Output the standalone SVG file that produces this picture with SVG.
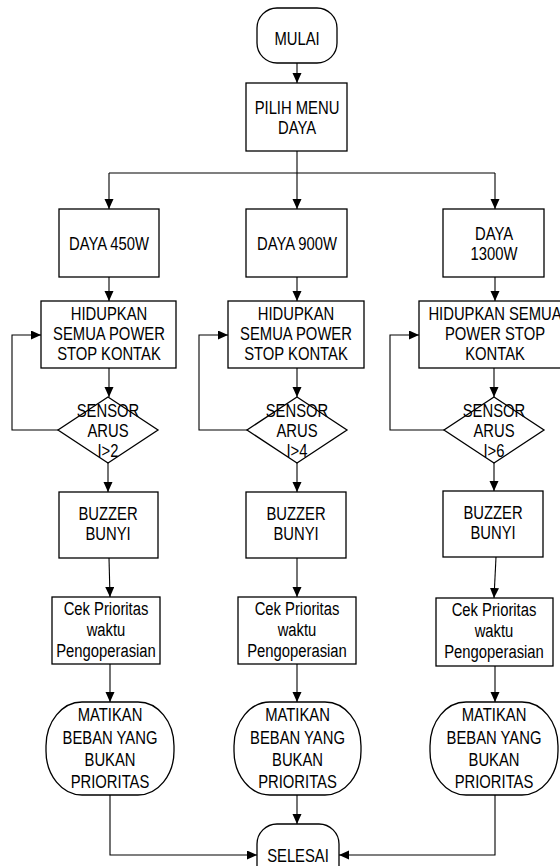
<svg xmlns="http://www.w3.org/2000/svg" width="560" height="866" viewBox="0 0 560 866">
<style>
.s{fill:#fff;stroke:#000;stroke-width:1.3}
.c{fill:none;stroke:#000;stroke-width:1.1}
.a{marker-end:url(#ah)}
.t{font-family:"Liberation Sans",Arial,sans-serif;font-size:19px;text-anchor:middle;fill:#000}
</style>
<defs>
<marker id="ah" markerUnits="userSpaceOnUse" markerWidth="10" markerHeight="10" refX="10" refY="4.5" orient="auto">
<path d="M0,0 L10,4.5 L0,9 z" fill="#000"/>
</marker>
</defs>
<rect width="560" height="866" fill="#fff"/>
<g id="connectors" class="c">
<path class="a" d="M297,63 V83"/>
<path d="M297,151 V173"/>
<path d="M109,173 H495"/>
<path class="a" d="M109,173 V209"/>
<path class="a" d="M297,173 V209"/>
<path class="a" d="M495,173 V209"/>
<path class="a" d="M109,277 V301"/>
<path class="a" d="M297,277 V301"/>
<path class="a" d="M495,277 V301"/>
<path class="a" d="M109,368 V397"/>
<path class="a" d="M297,368 V397"/>
<path class="a" d="M494,368 V397"/>
<path class="a" d="M58,430 H12 V335 H41"/>
<path class="a" d="M247,430 H199 V335 H228"/>
<path class="a" d="M444,430 H390 V335 H419"/>
<path class="a" d="M108,463 V492"/>
<path class="a" d="M297,463 V492"/>
<path class="a" d="M494,463 V491"/>
<path class="a" d="M109,558 L110,597"/>
<path class="a" d="M297,558 V597"/>
<path class="a" d="M496,557 L494,598"/>
<path class="a" d="M110,664 V702"/>
<path class="a" d="M297,664 V702"/>
<path class="a" d="M495,666 V702"/>
<path class="a" d="M297,795 V824"/>
<path class="a" d="M110,795 V855 H257"/>
<path class="a" d="M495,795 V855 H339"/>
</g>
<g id="mulai"><rect class="s" x="257" y="8" width="80" height="55" rx="20"/>
<text class="t" transform="translate(297 0) scale(0.78 1)" y="45">MULAI</text></g>
<g id="pilih"><rect class="s" x="246" y="83" width="101" height="68"/>
<text class="t" transform="translate(297 0) scale(0.78 1)"><tspan x="0" y="114">PILIH MENU</tspan><tspan x="0" y="134">DAYA</tspan></text></g>

<g id="daya450"><rect class="s" x="59" y="209" width="100" height="68"/>
<text class="t" transform="translate(109 0) scale(0.78 1)" y="250">DAYA 450W</text></g>
<g id="daya900"><rect class="s" x="246" y="209" width="101" height="68"/>
<text class="t" transform="translate(297 0) scale(0.78 1)" y="250">DAYA 900W</text></g>
<g id="daya1300"><rect class="s" x="443" y="209" width="101" height="68"/>
<text class="t" transform="translate(494 0) scale(0.78 1)"><tspan x="0" y="240">DAYA</tspan><tspan x="0" y="260">1300W</tspan></text></g>

<g id="hidup1"><rect class="s" x="41" y="301" width="135" height="67"/>
<text class="t" transform="translate(109 0) scale(0.78 1)"><tspan x="0" y="320">HIDUPKAN</tspan><tspan x="0" y="340">SEMUA POWER</tspan><tspan x="0" y="360">STOP KONTAK</tspan></text></g>
<g id="hidup2"><rect class="s" x="228" y="301" width="136" height="67"/>
<text class="t" transform="translate(296 0) scale(0.78 1)"><tspan x="0" y="320">HIDUPKAN</tspan><tspan x="0" y="340">SEMUA POWER</tspan><tspan x="0" y="360">STOP KONTAK</tspan></text></g>
<g id="hidup3"><rect class="s" x="419" y="301" width="152" height="67"/>
<text class="t" transform="translate(495 0) scale(0.78 1)"><tspan x="0" y="320">HIDUPKAN SEMUA</tspan><tspan x="0" y="340">POWER STOP</tspan><tspan x="0" y="360">KONTAK</tspan></text></g>

<g id="sensor1"><polygon class="s" points="108,397 158,430 108,463 58,430"/>
<text class="t" transform="translate(108 0) scale(0.78 1)"><tspan x="0" y="417">SENSOR</tspan><tspan x="0" y="437">ARUS</tspan><tspan x="0" y="457">I&gt;2</tspan></text></g>
<g id="sensor2"><polygon class="s" points="297,397 347,430 297,463 247,430"/>
<text class="t" transform="translate(297 0) scale(0.78 1)"><tspan x="0" y="417">SENSOR</tspan><tspan x="0" y="437">ARUS</tspan><tspan x="0" y="457">I&gt;4</tspan></text></g>
<g id="sensor3"><polygon class="s" points="494,397 544,430 494,463 444,430"/>
<text class="t" transform="translate(494 0) scale(0.78 1)"><tspan x="0" y="417">SENSOR</tspan><tspan x="0" y="437">ARUS</tspan><tspan x="0" y="457">I&gt;6</tspan></text></g>

<g id="buzzer1"><rect class="s" x="59" y="492" width="99" height="66"/>
<text class="t" transform="translate(108 0) scale(0.78 1)"><tspan x="0" y="520">BUZZER</tspan><tspan x="0" y="540">BUNYI</tspan></text></g>
<g id="buzzer2"><rect class="s" x="246" y="492" width="100" height="66"/>
<text class="t" transform="translate(296 0) scale(0.78 1)"><tspan x="0" y="520">BUZZER</tspan><tspan x="0" y="540">BUNYI</tspan></text></g>
<g id="buzzer3"><rect class="s" x="443" y="491" width="100" height="66"/>
<text class="t" transform="translate(493 0) scale(0.78 1)"><tspan x="0" y="519">BUZZER</tspan><tspan x="0" y="539">BUNYI</tspan></text></g>

<g id="cek1"><rect class="s" x="52" y="597" width="108" height="67"/>
<text class="t" transform="translate(106 0) scale(0.78 1)"><tspan x="0" y="615">Cek Prioritas</tspan><tspan x="0" y="636">waktu</tspan><tspan x="0" y="657">Pengoperasian</tspan></text></g>
<g id="cek2"><rect class="s" x="238" y="597" width="118" height="67"/>
<text class="t" transform="translate(297 0) scale(0.78 1)"><tspan x="0" y="615">Cek Prioritas</tspan><tspan x="0" y="636">waktu</tspan><tspan x="0" y="657">Pengoperasian</tspan></text></g>
<g id="cek3"><rect class="s" x="436" y="598" width="117" height="68"/>
<text class="t" transform="translate(494 0) scale(0.78 1)"><tspan x="0" y="616">Cek Prioritas</tspan><tspan x="0" y="637">waktu</tspan><tspan x="0" y="658">Pengoperasian</tspan></text></g>

<g id="matikan1"><rect class="s" x="46" y="702" width="128" height="93" rx="36" ry="44"/>
<text class="t" transform="translate(110 0) scale(0.78 1)"><tspan x="0" y="721">MATIKAN</tspan><tspan x="0" y="744">BEBAN YANG</tspan><tspan x="0" y="766">BUKAN</tspan><tspan x="0" y="788">PRIORITAS</tspan></text></g>
<g id="matikan2"><rect class="s" x="234" y="702" width="127" height="93" rx="36" ry="44"/>
<text class="t" transform="translate(297.5 0) scale(0.78 1)"><tspan x="0" y="721">MATIKAN</tspan><tspan x="0" y="744">BEBAN YANG</tspan><tspan x="0" y="766">BUKAN</tspan><tspan x="0" y="788">PRIORITAS</tspan></text></g>
<g id="matikan3"><rect class="s" x="430" y="702" width="128" height="93" rx="36" ry="44"/>
<text class="t" transform="translate(494 0) scale(0.78 1)"><tspan x="0" y="721">MATIKAN</tspan><tspan x="0" y="744">BEBAN YANG</tspan><tspan x="0" y="766">BUKAN</tspan><tspan x="0" y="788">PRIORITAS</tspan></text></g>

<g id="selesai"><rect class="s" x="257" y="824" width="82" height="62" rx="20"/>
<text class="t" transform="translate(298 0) scale(0.78 1)" y="862">SELESAI</text></g>
</svg>
